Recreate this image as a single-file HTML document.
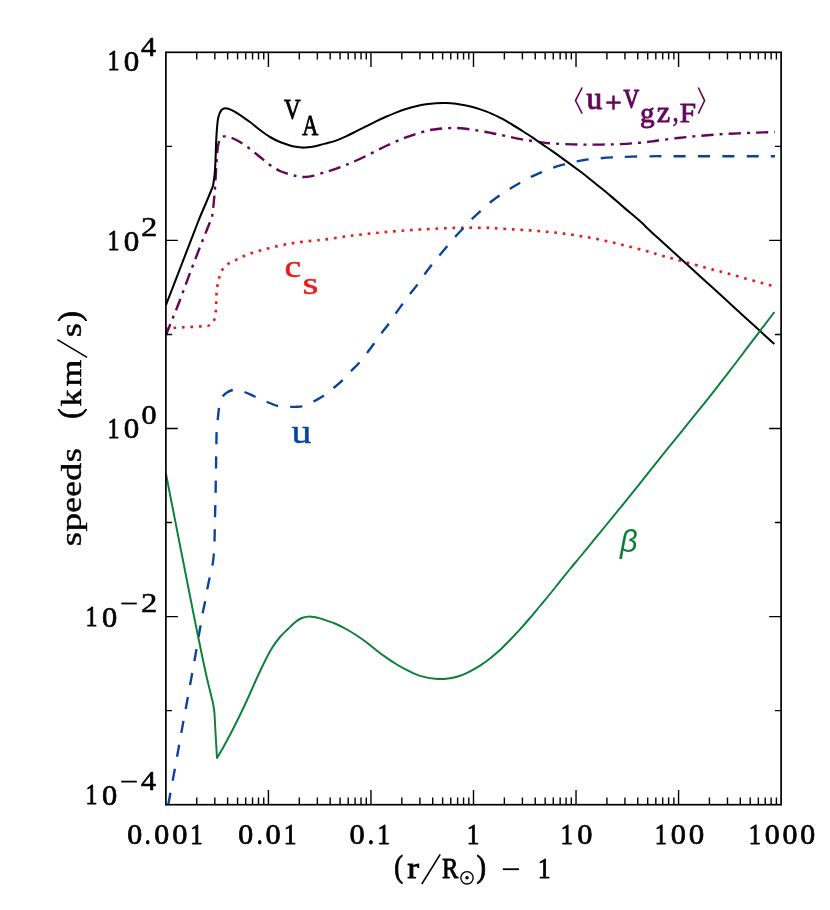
<!DOCTYPE html>
<html><head><meta charset="utf-8"><title>speeds vs (r/Rsun)-1</title>
<style>
html,body{margin:0;padding:0;background:#fff;}
body{width:830px;height:910px;overflow:hidden;font-family:"Liberation Serif",serif;}
svg{display:block;will-change:transform;}
text{white-space:pre;}
.fR{font-family:"Liberation Serif",serif;}
.fB{font-family:"Liberation Serif",serif;font-weight:bold;}
.fSI{font-family:"Liberation Sans",sans-serif;font-style:italic;}
</style></head><body>
<svg width="830" height="910" viewBox="0 0 830 910">
<rect width="830" height="910" fill="#fff"/>
<path d="M166.00,328.60C167.50,328.47 172.00,328.02 175.00,327.80C178.00,327.58 181.17,327.45 184.00,327.30C186.83,327.15 189.17,327.05 192.00,326.90C194.83,326.75 198.67,326.57 201.00,326.40C203.33,326.23 204.63,326.07 206.00,325.90C207.37,325.73 208.20,325.88 209.20,325.40C210.20,324.92 211.13,324.00 212.00,323.00C212.87,322.00 213.77,321.40 214.40,319.40C215.03,317.40 215.50,313.82 215.80,311.00C216.10,308.18 216.08,305.33 216.20,302.50C216.32,299.67 216.28,296.83 216.50,294.00C216.72,291.17 217.03,288.28 217.50,285.50C217.97,282.72 218.47,279.95 219.30,277.30C220.13,274.65 220.95,271.88 222.50,269.60C224.05,267.32 226.32,265.23 228.60,263.60C230.88,261.97 233.63,261.07 236.20,259.80C238.77,258.53 241.37,257.13 244.00,256.00C246.63,254.87 249.33,253.90 252.00,253.00C254.67,252.10 257.33,251.37 260.00,250.60C262.67,249.83 265.17,249.13 268.00,248.40C270.83,247.67 274.00,246.87 277.00,246.20C280.00,245.53 283.17,244.93 286.00,244.40C288.83,243.87 291.17,243.43 294.00,243.00C296.83,242.57 300.00,242.17 303.00,241.80C306.00,241.43 309.17,241.10 312.00,240.80C314.83,240.50 317.67,240.23 320.00,240.00C322.33,239.77 321.67,240.00 326.00,239.40C330.33,238.80 339.33,237.30 346.00,236.40C352.67,235.50 359.33,234.73 366.00,234.00C372.67,233.27 379.33,232.60 386.00,232.00C392.67,231.40 399.33,230.87 406.00,230.40C412.67,229.93 419.33,229.57 426.00,229.20C432.67,228.83 439.33,228.45 446.00,228.20C452.67,227.95 459.33,227.77 466.00,227.70C472.67,227.63 481.00,227.70 486.00,227.80C491.00,227.90 491.50,228.03 496.00,228.30C500.50,228.57 507.33,229.05 513.00,229.40C518.67,229.75 524.33,230.00 530.00,230.40C535.67,230.80 541.33,231.27 547.00,231.80C552.67,232.33 558.33,232.87 564.00,233.60C569.67,234.33 575.50,235.30 581.00,236.20C586.50,237.10 591.50,237.90 597.00,239.00C602.50,240.10 608.50,241.50 614.00,242.80C619.50,244.10 624.50,245.40 630.00,246.80C635.50,248.20 641.67,249.73 647.00,251.20C652.33,252.67 656.83,254.13 662.00,255.60C667.17,257.07 671.00,258.07 678.00,260.00C685.00,261.93 695.67,264.93 704.00,267.20C712.33,269.47 719.83,271.37 728.00,273.60C736.17,275.83 746.00,278.67 753.00,280.60C760.00,282.53 766.33,284.22 770.00,285.20C773.67,286.18 774.17,286.28 775.00,286.50" fill="none" stroke="#e81a1a" stroke-width="2.6" stroke-dasharray="2.7 5.8" stroke-dashoffset="1.05"/>
<path d="M168.40,804.00C169.83,796.17 174.87,768.77 177.00,757.00C179.13,745.23 179.77,741.33 181.20,733.40C182.63,725.47 184.13,717.40 185.60,709.40C187.07,701.40 188.53,693.47 190.00,685.40C191.47,677.33 192.80,670.07 194.40,661.00C196.00,651.93 198.58,636.83 199.60,631.00C200.62,625.17 200.00,628.92 200.50,626.00C201.00,623.08 201.85,617.50 202.60,613.50C203.35,609.50 204.23,606.00 205.00,602.00C205.77,598.00 206.43,593.50 207.20,589.50C207.97,585.50 208.73,581.92 209.60,578.00C210.47,574.08 211.70,569.92 212.40,566.00C213.10,562.08 213.45,558.50 213.80,554.50C214.15,550.50 214.30,548.08 214.50,542.00C214.70,535.92 214.82,526.17 215.00,518.00C215.18,509.83 215.43,501.33 215.60,493.00C215.77,484.67 215.87,476.17 216.00,468.00C216.13,459.83 216.30,449.83 216.40,444.00C216.50,438.17 216.40,436.83 216.60,433.00C216.80,429.17 217.20,425.17 217.60,421.00C218.00,416.83 218.52,411.33 219.00,408.00C219.48,404.67 219.83,403.00 220.50,401.00C221.17,399.00 221.92,397.43 223.00,396.00C224.08,394.57 225.40,393.40 227.00,392.40C228.60,391.40 230.93,390.47 232.60,390.00C234.27,389.53 235.03,389.27 237.00,389.60C238.97,389.93 242.23,391.20 244.40,392.00C246.57,392.80 248.13,393.57 250.00,394.40C251.87,395.23 253.77,396.13 255.60,397.00C257.43,397.87 259.10,398.77 261.00,399.60C262.90,400.43 265.08,401.23 267.00,402.00C268.92,402.77 270.67,403.53 272.50,404.20C274.33,404.87 276.08,405.57 278.00,406.00C279.92,406.43 281.93,406.65 284.00,406.80C286.07,406.95 288.40,406.90 290.40,406.90C292.40,406.90 294.07,406.90 296.00,406.80C297.93,406.70 300.00,406.70 302.00,406.30C304.00,405.90 306.10,405.18 308.00,404.40C309.90,403.62 310.73,403.10 313.40,401.60C316.07,400.10 320.63,397.67 324.00,395.40C327.37,393.13 330.53,390.50 333.60,388.00C336.67,385.50 339.50,383.23 342.40,380.40C345.30,377.57 348.23,373.90 351.00,371.00C353.77,368.10 356.33,366.00 359.00,363.00C361.67,360.00 364.50,356.23 367.00,353.00C369.50,349.77 371.57,346.93 374.00,343.60C376.43,340.27 379.17,336.27 381.60,333.00C384.03,329.73 386.27,327.23 388.60,324.00C390.93,320.77 393.27,316.93 395.60,313.60C397.93,310.27 400.20,307.27 402.60,304.00C405.00,300.73 407.53,297.23 410.00,294.00C412.47,290.77 415.00,287.83 417.40,284.60C419.80,281.37 422.03,277.87 424.40,274.60C426.77,271.33 429.10,268.20 431.60,265.00C434.10,261.80 436.83,258.50 439.40,255.40C441.97,252.30 444.40,249.47 447.00,246.40C449.60,243.33 452.33,240.00 455.00,237.00C457.67,234.00 460.33,231.23 463.00,228.40C465.67,225.57 467.92,223.07 471.00,220.00C474.08,216.93 478.00,213.17 481.50,210.00C485.00,206.83 488.58,203.67 492.00,201.00C495.42,198.33 498.67,196.23 502.00,194.00C505.33,191.77 508.67,189.67 512.00,187.60C515.33,185.53 518.67,183.47 522.00,181.60C525.33,179.73 528.67,178.00 532.00,176.40C535.33,174.80 538.67,173.40 542.00,172.00C545.33,170.60 548.67,169.20 552.00,168.00C555.33,166.80 558.67,165.73 562.00,164.80C565.33,163.87 568.67,163.13 572.00,162.40C575.33,161.67 578.67,160.97 582.00,160.40C585.33,159.83 587.00,159.50 592.00,159.00C597.00,158.50 605.33,157.80 612.00,157.40C618.67,157.00 624.33,156.80 632.00,156.60C639.67,156.40 653.67,156.27 658.00,156.20C677.50,156.20 755.50,156.20 775.00,156.20" fill="none" stroke="#07439c" stroke-width="2.35" stroke-dasharray="12.2 12.1" stroke-dashoffset="0.6"/>
<path d="M166.00,335.00C167.17,332.08 170.67,323.33 173.00,317.50C175.33,311.67 177.17,307.42 180.00,300.00C182.83,292.58 186.67,281.83 190.00,273.00C193.33,264.17 197.33,253.83 200.00,247.00C202.67,240.17 204.33,236.17 206.00,232.00C207.67,227.83 209.00,224.50 210.00,222.00C211.00,219.50 211.42,219.83 212.00,217.00C212.58,214.17 213.00,209.83 213.50,205.00C214.00,200.17 214.52,194.83 215.00,188.00C215.48,181.17 216.03,169.83 216.40,164.00C216.77,158.17 216.93,156.00 217.20,153.00C217.47,150.00 217.70,147.92 218.00,146.00C218.30,144.08 218.67,142.67 219.00,141.50C219.33,140.33 219.50,139.75 220.00,139.00C220.50,138.25 221.33,137.43 222.00,137.00C222.67,136.57 223.00,136.43 224.00,136.40C225.00,136.37 226.67,136.53 228.00,136.80C229.33,137.07 230.00,137.13 232.00,138.00C234.00,138.87 237.00,140.17 240.00,142.00C243.00,143.83 246.67,146.50 250.00,149.00C253.33,151.50 256.67,154.33 260.00,157.00C263.33,159.67 266.67,162.67 270.00,165.00C273.33,167.33 276.67,169.43 280.00,171.00C283.33,172.57 287.17,173.53 290.00,174.40C292.83,175.27 294.83,175.77 297.00,176.20C299.17,176.63 301.00,176.93 303.00,177.00C305.00,177.07 307.17,176.83 309.00,176.60C310.83,176.37 311.50,176.30 314.00,175.60C316.50,174.90 321.50,173.17 324.00,172.40C326.50,171.63 325.33,172.23 329.00,171.00C332.67,169.77 339.83,167.50 346.00,165.00C352.17,162.50 359.33,159.17 366.00,156.00C372.67,152.83 379.33,149.10 386.00,146.00C392.67,142.90 399.33,139.90 406.00,137.40C412.67,134.90 421.00,132.37 426.00,131.00C431.00,129.63 432.67,129.67 436.00,129.20C439.33,128.73 442.67,128.40 446.00,128.20C449.33,128.00 452.67,127.90 456.00,128.00C459.33,128.10 462.67,128.43 466.00,128.80C469.33,129.17 472.67,129.67 476.00,130.20C479.33,130.73 483.33,131.50 486.00,132.00C488.67,132.50 489.33,132.67 492.00,133.20C494.67,133.73 498.67,134.50 502.00,135.20C505.33,135.90 508.67,136.70 512.00,137.40C515.33,138.10 518.67,138.80 522.00,139.40C525.33,140.00 528.67,140.50 532.00,141.00C535.33,141.50 538.67,142.00 542.00,142.40C545.33,142.80 547.00,143.07 552.00,143.40C557.00,143.73 565.33,144.20 572.00,144.40C578.67,144.60 585.33,144.60 592.00,144.60C598.67,144.60 605.33,144.60 612.00,144.40C618.67,144.20 625.33,143.90 632.00,143.40C638.67,142.90 647.67,141.88 652.00,141.40C656.33,140.92 653.67,141.07 658.00,140.50C662.33,139.93 671.33,138.75 678.00,138.00C684.67,137.25 691.33,136.60 698.00,136.00C704.67,135.40 711.33,134.83 718.00,134.40C724.67,133.97 731.33,133.70 738.00,133.40C744.67,133.10 751.83,132.83 758.00,132.60C764.17,132.37 772.17,132.10 775.00,132.00" fill="none" stroke="#64045a" stroke-width="2.4" stroke-dasharray="12.25 6.04 3 6.04" stroke-dashoffset="0.6"/>
<path d="M166.00,305.00C168.67,298.08 176.67,277.33 182.00,263.50C187.33,249.67 194.00,232.08 198.00,222.00C202.00,211.92 203.83,208.17 206.00,203.00C208.17,197.83 209.83,193.83 211.00,191.00C212.17,188.17 212.67,186.83 213.00,186.00C213.20,184.67 213.87,180.67 214.20,178.00C214.53,175.33 214.77,173.33 215.00,170.00C215.23,166.67 215.43,162.00 215.60,158.00C215.77,154.00 215.85,149.83 216.00,146.00C216.15,142.17 216.30,138.33 216.50,135.00C216.70,131.67 216.95,128.67 217.20,126.00C217.45,123.33 217.62,121.08 218.00,119.00C218.38,116.92 218.92,115.00 219.50,113.50C220.08,112.00 220.75,110.85 221.50,110.00C222.25,109.15 223.08,108.67 224.00,108.40C224.92,108.13 226.00,108.23 227.00,108.40C228.00,108.57 228.67,108.83 230.00,109.40C231.33,109.97 233.33,110.87 235.00,111.80C236.67,112.73 237.50,113.30 240.00,115.00C242.50,116.70 246.67,119.50 250.00,122.00C253.33,124.50 256.67,127.50 260.00,130.00C263.33,132.50 266.67,135.00 270.00,137.00C273.33,139.00 276.67,140.60 280.00,142.00C283.33,143.40 287.33,144.60 290.00,145.40C292.67,146.20 294.00,146.43 296.00,146.80C298.00,147.17 300.00,147.52 302.00,147.60C304.00,147.68 306.00,147.50 308.00,147.30C310.00,147.10 312.00,146.78 314.00,146.40C316.00,146.02 318.00,145.50 320.00,145.00C322.00,144.50 323.33,144.13 326.00,143.40C328.67,142.67 332.67,141.77 336.00,140.60C339.33,139.43 342.67,137.93 346.00,136.40C349.33,134.87 352.67,133.07 356.00,131.40C359.33,129.73 362.67,128.07 366.00,126.40C369.33,124.73 372.67,123.00 376.00,121.40C379.33,119.80 382.67,118.27 386.00,116.80C389.33,115.33 392.67,113.90 396.00,112.60C399.33,111.30 402.67,110.07 406.00,109.00C409.33,107.93 412.67,107.00 416.00,106.20C419.33,105.40 422.67,104.70 426.00,104.20C429.33,103.70 432.67,103.40 436.00,103.20C439.33,103.00 442.67,102.90 446.00,103.00C449.33,103.10 452.67,103.37 456.00,103.80C459.33,104.23 462.67,104.90 466.00,105.60C469.33,106.30 472.67,107.03 476.00,108.00C479.33,108.97 483.33,110.42 486.00,111.40C488.67,112.38 489.33,112.68 492.00,113.90C494.67,115.12 498.67,116.93 502.00,118.70C505.33,120.47 508.67,122.50 512.00,124.50C515.33,126.50 518.67,128.59 522.00,130.70C525.33,132.81 528.67,134.92 532.00,137.15C535.33,139.38 538.67,141.81 542.00,144.10C545.33,146.39 548.67,148.57 552.00,150.90C555.33,153.23 558.67,155.63 562.00,158.05C565.33,160.47 568.67,162.94 572.00,165.40C575.33,167.86 578.67,170.23 582.00,172.80C585.33,175.37 588.67,178.13 592.00,180.80C595.33,183.47 598.67,186.08 602.00,188.80C605.33,191.52 608.67,194.27 612.00,197.10C615.33,199.93 618.67,202.93 622.00,205.80C625.33,208.67 628.83,211.60 632.00,214.30C635.17,217.00 638.13,219.38 641.00,222.00C643.87,224.62 646.37,227.33 649.20,230.00C652.03,232.67 651.53,232.12 658.00,238.00C664.47,243.88 678.00,256.20 688.00,265.30C698.00,274.40 708.33,283.78 718.00,292.60C727.67,301.42 736.62,309.63 746.00,318.20C755.38,326.77 769.58,339.70 774.30,344.00" fill="none" stroke="#000" stroke-width="2.05" stroke-linejoin="round"/>
<path d="M166.00,474.00C169.67,492.67 182.67,559.00 188.00,586.00C193.33,613.00 195.00,621.33 198.00,636.00C201.00,650.67 203.50,662.83 206.00,674.00C208.50,685.17 211.83,698.17 213.00,703.00C213.23,704.50 214.17,710.50 214.40,712.00C214.60,715.67 215.17,726.33 215.60,734.00C216.03,741.67 216.77,754.00 217.00,758.00C218.17,756.00 221.50,750.50 224.00,746.00C226.50,741.50 229.33,736.17 232.00,731.00C234.67,725.83 237.33,720.50 240.00,715.00C242.67,709.50 245.33,703.83 248.00,698.00C250.67,692.17 253.33,685.83 256.00,680.00C258.67,674.17 261.33,668.33 264.00,663.00C266.67,657.67 269.33,652.33 272.00,648.00C274.67,643.67 277.33,640.17 280.00,637.00C282.67,633.83 285.33,631.57 288.00,629.00C290.67,626.43 293.67,623.43 296.00,621.60C298.33,619.77 300.00,618.83 302.00,618.00C304.00,617.17 306.00,616.77 308.00,616.60C310.00,616.43 312.00,616.70 314.00,617.00C316.00,617.30 318.00,617.83 320.00,618.40C322.00,618.97 323.33,619.47 326.00,620.40C328.67,621.33 332.67,622.57 336.00,624.00C339.33,625.43 342.67,627.17 346.00,629.00C349.33,630.83 352.67,632.83 356.00,635.00C359.33,637.17 362.67,639.50 366.00,642.00C369.33,644.50 372.67,647.43 376.00,650.00C379.33,652.57 382.67,655.07 386.00,657.40C389.33,659.73 392.67,661.97 396.00,664.00C399.33,666.03 402.67,667.87 406.00,669.60C409.33,671.33 412.67,673.10 416.00,674.40C419.33,675.70 422.67,676.67 426.00,677.40C429.33,678.13 433.50,678.53 436.00,678.80C438.50,679.07 439.33,679.00 441.00,679.00C442.67,679.00 443.50,679.13 446.00,678.80C448.50,678.47 452.67,677.90 456.00,677.00C459.33,676.10 463.67,674.33 466.00,673.40C468.33,672.47 467.67,672.70 470.00,671.40C472.33,670.10 476.67,667.77 480.00,665.60C483.33,663.43 486.67,661.00 490.00,658.40C493.33,655.80 496.67,653.07 500.00,650.00C503.33,646.93 506.67,643.43 510.00,640.00C513.33,636.57 516.67,633.07 520.00,629.40C523.33,625.73 526.67,621.90 530.00,618.00C533.33,614.10 536.67,610.00 540.00,606.00C543.33,602.00 546.67,598.10 550.00,594.00C553.33,589.90 556.67,585.57 560.00,581.40C563.33,577.23 566.67,573.07 570.00,569.00C573.33,564.93 576.67,561.03 580.00,557.00C583.33,552.97 586.67,548.87 590.00,544.80C593.33,540.73 596.67,536.67 600.00,532.60C603.33,528.53 606.67,524.47 610.00,520.40C613.33,516.33 617.28,511.53 620.00,508.20C622.72,504.87 621.92,505.87 626.30,500.40C630.68,494.93 639.62,483.77 646.30,475.40C652.98,467.03 659.70,458.53 666.40,450.20C673.10,441.87 679.82,433.67 686.50,425.40C693.18,417.13 700.70,407.88 706.50,400.60C712.30,393.32 716.37,388.05 721.30,381.70C726.23,375.35 729.82,370.73 736.10,362.50C742.38,354.27 752.62,340.72 759.00,332.30C765.38,323.88 771.83,315.38 774.40,312.00" fill="none" stroke="#0a8038" stroke-width="1.95" stroke-linejoin="round"/>
<rect x="165.90" y="52.30" width="615.20" height="752.40" fill="none" stroke="#000" stroke-width="1.70"/>
<path d="M196.77,804.70v-7.30M196.77,52.30v7.30M214.82,804.70v-7.30M214.82,52.30v7.30M227.63,804.70v-7.30M227.63,52.30v7.30M237.57,804.70v-7.30M237.57,52.30v7.30M245.69,804.70v-7.30M245.69,52.30v7.30M252.55,804.70v-7.30M252.55,52.30v7.30M258.50,804.70v-7.30M258.50,52.30v7.30M263.74,804.70v-7.30M263.74,52.30v7.30M268.43,804.70v-14.60M268.43,52.30v14.60M299.30,804.70v-7.30M299.30,52.30v7.30M317.35,804.70v-7.30M317.35,52.30v7.30M330.16,804.70v-7.30M330.16,52.30v7.30M340.10,804.70v-7.30M340.10,52.30v7.30M348.22,804.70v-7.30M348.22,52.30v7.30M355.08,804.70v-7.30M355.08,52.30v7.30M361.03,804.70v-7.30M361.03,52.30v7.30M366.27,804.70v-7.30M366.27,52.30v7.30M370.97,804.70v-14.60M370.97,52.30v14.60M401.83,804.70v-7.30M401.83,52.30v7.30M419.89,804.70v-7.30M419.89,52.30v7.30M432.70,804.70v-7.30M432.70,52.30v7.30M442.63,804.70v-7.30M442.63,52.30v7.30M450.75,804.70v-7.30M450.75,52.30v7.30M457.62,804.70v-7.30M457.62,52.30v7.30M463.56,804.70v-7.30M463.56,52.30v7.30M468.81,804.70v-7.30M468.81,52.30v7.30M473.50,804.70v-14.60M473.50,52.30v14.60M504.37,804.70v-7.30M504.37,52.30v7.30M522.42,804.70v-7.30M522.42,52.30v7.30M535.23,804.70v-7.30M535.23,52.30v7.30M545.17,804.70v-7.30M545.17,52.30v7.30M553.29,804.70v-7.30M553.29,52.30v7.30M560.15,804.70v-7.30M560.15,52.30v7.30M566.10,804.70v-7.30M566.10,52.30v7.30M571.34,804.70v-7.30M571.34,52.30v7.30M576.03,804.70v-14.60M576.03,52.30v14.60M606.90,804.70v-7.30M606.90,52.30v7.30M624.95,804.70v-7.30M624.95,52.30v7.30M637.76,804.70v-7.30M637.76,52.30v7.30M647.70,804.70v-7.30M647.70,52.30v7.30M655.82,804.70v-7.30M655.82,52.30v7.30M662.68,804.70v-7.30M662.68,52.30v7.30M668.63,804.70v-7.30M668.63,52.30v7.30M673.87,804.70v-7.30M673.87,52.30v7.30M678.57,804.70v-14.60M678.57,52.30v14.60M709.43,804.70v-7.30M709.43,52.30v7.30M727.49,804.70v-7.30M727.49,52.30v7.30M740.30,804.70v-7.30M740.30,52.30v7.30M750.23,804.70v-7.30M750.23,52.30v7.30M758.35,804.70v-7.30M758.35,52.30v7.30M765.22,804.70v-7.30M765.22,52.30v7.30M771.16,804.70v-7.30M771.16,52.30v7.30M776.41,804.70v-7.30M776.41,52.30v7.30M165.90,146.35h6.20M781.10,146.35h-6.20M165.90,240.40h12.00M781.10,240.40h-12.00M165.90,334.45h6.20M781.10,334.45h-6.20M165.90,428.50h12.00M781.10,428.50h-12.00M165.90,522.55h6.20M781.10,522.55h-6.20M165.90,616.60h12.00M781.10,616.60h-12.00M165.90,710.65h6.20M781.10,710.65h-6.20" fill="none" stroke="#000" stroke-width="1.4"/>
<text transform="translate(127.22,844.00) scale(1.0348,1)" font-size="28.90" fill="#000" stroke="#000" stroke-width="0.72" stroke-linejoin="round" vector-effect="non-scaling-stroke" class="fR">0</text>
<text transform="translate(144.84,844.00) scale(0.8199,1)" font-size="28.90" fill="#000" stroke="#000" stroke-width="0.80" stroke-linejoin="round" vector-effect="non-scaling-stroke" class="fR">.</text>
<text transform="translate(154.22,844.00) scale(1.0348,1)" font-size="28.90" fill="#000" stroke="#000" stroke-width="0.72" stroke-linejoin="round" vector-effect="non-scaling-stroke" class="fR">0</text>
<text transform="translate(172.19,844.00) scale(1.0533,1)" font-size="28.90" fill="#000" stroke="#000" stroke-width="0.70" stroke-linejoin="round" vector-effect="non-scaling-stroke" class="fR">0</text>
<text transform="translate(190.20,843.60) scale(0.8649,1)" font-size="28.90" fill="#000" stroke="#000" stroke-width="0.80" stroke-linejoin="round" vector-effect="non-scaling-stroke" class="fR">1</text>
<text transform="translate(238.22,844.00) scale(1.0348,1)" font-size="28.90" fill="#000" stroke="#000" stroke-width="0.72" stroke-linejoin="round" vector-effect="non-scaling-stroke" class="fR">0</text>
<text transform="translate(256.84,844.00) scale(0.8199,1)" font-size="28.90" fill="#000" stroke="#000" stroke-width="0.80" stroke-linejoin="round" vector-effect="non-scaling-stroke" class="fR">.</text>
<text transform="translate(265.59,844.00) scale(1.0533,1)" font-size="28.90" fill="#000" stroke="#000" stroke-width="0.70" stroke-linejoin="round" vector-effect="non-scaling-stroke" class="fR">0</text>
<text transform="translate(283.75,843.60) scale(0.8846,1)" font-size="28.90" fill="#000" stroke="#000" stroke-width="0.80" stroke-linejoin="round" vector-effect="non-scaling-stroke" class="fR">1</text>
<text transform="translate(349.59,844.00) scale(1.0533,1)" font-size="28.90" fill="#000" stroke="#000" stroke-width="0.70" stroke-linejoin="round" vector-effect="non-scaling-stroke" class="fR">0</text>
<text transform="translate(367.73,844.00) scale(0.8785,1)" font-size="28.90" fill="#000" stroke="#000" stroke-width="0.80" stroke-linejoin="round" vector-effect="non-scaling-stroke" class="fR">.</text>
<text transform="translate(377.15,843.60) scale(0.8846,1)" font-size="28.90" fill="#000" stroke="#000" stroke-width="0.80" stroke-linejoin="round" vector-effect="non-scaling-stroke" class="fR">1</text>
<text transform="translate(466.80,843.60) scale(0.8649,1)" font-size="28.90" fill="#000" stroke="#000" stroke-width="0.80" stroke-linejoin="round" vector-effect="non-scaling-stroke" class="fR">1</text>
<text transform="translate(560.60,843.60) scale(0.8649,1)" font-size="28.90" fill="#000" stroke="#000" stroke-width="0.80" stroke-linejoin="round" vector-effect="non-scaling-stroke" class="fR">1</text>
<text transform="translate(577.19,844.00) scale(1.0533,1)" font-size="28.90" fill="#000" stroke="#000" stroke-width="0.70" stroke-linejoin="round" vector-effect="non-scaling-stroke" class="fR">0</text>
<text transform="translate(654.85,843.60) scale(0.8453,1)" font-size="28.90" fill="#000" stroke="#000" stroke-width="0.80" stroke-linejoin="round" vector-effect="non-scaling-stroke" class="fR">1</text>
<text transform="translate(670.79,844.00) scale(1.0533,1)" font-size="28.90" fill="#000" stroke="#000" stroke-width="0.70" stroke-linejoin="round" vector-effect="non-scaling-stroke" class="fR">0</text>
<text transform="translate(688.76,844.00) scale(1.0717,1)" font-size="28.90" fill="#000" stroke="#000" stroke-width="0.67" stroke-linejoin="round" vector-effect="non-scaling-stroke" class="fR">0</text>
<text transform="translate(748.65,843.60) scale(0.8453,1)" font-size="28.90" fill="#000" stroke="#000" stroke-width="0.80" stroke-linejoin="round" vector-effect="non-scaling-stroke" class="fR">1</text>
<text transform="translate(764.82,844.00) scale(1.0348,1)" font-size="28.90" fill="#000" stroke="#000" stroke-width="0.72" stroke-linejoin="round" vector-effect="non-scaling-stroke" class="fR">0</text>
<text transform="translate(782.62,844.00) scale(1.0348,1)" font-size="28.90" fill="#000" stroke="#000" stroke-width="0.72" stroke-linejoin="round" vector-effect="non-scaling-stroke" class="fR">0</text>
<text transform="translate(800.22,844.00) scale(1.0348,1)" font-size="28.90" fill="#000" stroke="#000" stroke-width="0.72" stroke-linejoin="round" vector-effect="non-scaling-stroke" class="fR">0</text>
<text transform="translate(107.50,70.10) scale(0.8256,1)" font-size="28.90" fill="#000" stroke="#000" stroke-width="0.80" stroke-linejoin="round" vector-effect="non-scaling-stroke" class="fR">1</text>
<text transform="translate(123.76,70.50) scale(1.0717,1)" font-size="28.90" fill="#000" stroke="#000" stroke-width="0.67" stroke-linejoin="round" vector-effect="non-scaling-stroke" class="fR">0</text>
<text transform="translate(141.04,55.87) scale(1.0872,1)" font-size="27.60" fill="#000" stroke="#000" stroke-width="0.65" stroke-linejoin="round" vector-effect="non-scaling-stroke" class="fR">4</text>
<text transform="translate(107.50,250.20) scale(0.8256,1)" font-size="28.90" fill="#000" stroke="#000" stroke-width="0.80" stroke-linejoin="round" vector-effect="non-scaling-stroke" class="fR">1</text>
<text transform="translate(123.76,250.60) scale(1.0717,1)" font-size="28.90" fill="#000" stroke="#000" stroke-width="0.67" stroke-linejoin="round" vector-effect="non-scaling-stroke" class="fR">0</text>
<text transform="translate(141.02,236.14) scale(1.1826,1)" font-size="27.60" fill="#000" stroke="#000" stroke-width="0.52" stroke-linejoin="round" vector-effect="non-scaling-stroke" class="fR">2</text>
<text transform="translate(107.50,438.00) scale(0.8256,1)" font-size="28.90" fill="#000" stroke="#000" stroke-width="0.80" stroke-linejoin="round" vector-effect="non-scaling-stroke" class="fR">1</text>
<text transform="translate(123.76,438.40) scale(1.0717,1)" font-size="28.90" fill="#000" stroke="#000" stroke-width="0.67" stroke-linejoin="round" vector-effect="non-scaling-stroke" class="fR">0</text>
<text transform="translate(141.38,424.10) scale(1.0904,1)" font-size="27.60" fill="#000" stroke="#000" stroke-width="0.65" stroke-linejoin="round" vector-effect="non-scaling-stroke" class="fR">0</text>
<text transform="translate(85.40,626.40) scale(0.8256,1)" font-size="28.90" fill="#000" stroke="#000" stroke-width="0.80" stroke-linejoin="round" vector-effect="non-scaling-stroke" class="fR">1</text>
<text transform="translate(101.89,626.80) scale(1.0533,1)" font-size="28.90" fill="#000" stroke="#000" stroke-width="0.70" stroke-linejoin="round" vector-effect="non-scaling-stroke" class="fR">0</text>
<path d="M121.3,603.50H136.8" stroke="#000" stroke-width="1.8"/>
<text transform="translate(141.02,612.44) scale(1.1826,1)" font-size="27.60" fill="#000" stroke="#000" stroke-width="0.52" stroke-linejoin="round" vector-effect="non-scaling-stroke" class="fR">2</text>
<text transform="translate(85.40,804.20) scale(0.8256,1)" font-size="28.90" fill="#000" stroke="#000" stroke-width="0.80" stroke-linejoin="round" vector-effect="non-scaling-stroke" class="fR">1</text>
<text transform="translate(101.89,804.60) scale(1.0533,1)" font-size="28.90" fill="#000" stroke="#000" stroke-width="0.70" stroke-linejoin="round" vector-effect="non-scaling-stroke" class="fR">0</text>
<path d="M121.3,781.60H136.8" stroke="#000" stroke-width="1.8"/>
<text transform="translate(141.04,790.27) scale(1.0872,1)" font-size="27.60" fill="#000" stroke="#000" stroke-width="0.65" stroke-linejoin="round" vector-effect="non-scaling-stroke" class="fR">4</text>
<text transform="translate(394.34,876.95) scale(0.8605,1)" font-size="30.77" fill="#000" stroke="#000" stroke-width="0.80" stroke-linejoin="round" vector-effect="non-scaling-stroke" class="fR">(</text>
<text transform="translate(407.17,877.73) scale(1.2228,1)" font-size="28.90" fill="#000" stroke="#000" stroke-width="0.95" stroke-linejoin="round" vector-effect="non-scaling-stroke" class="fR">r</text>
<path d="M421.8,884L440.2,854.4" stroke="#000" stroke-width="1.6"/>
<text transform="translate(441.89,877.80) scale(0.8478,1)" font-size="28.90" fill="#000" stroke="#000" stroke-width="0.80" stroke-linejoin="round" vector-effect="non-scaling-stroke" class="fR">R</text>
<circle cx="467" cy="877.8" r="6.2" fill="none" stroke="#000" stroke-width="1.4"/><circle cx="467" cy="877.8" r="1.75" fill="#000"/>
<text transform="translate(476.47,876.95) scale(0.9364,1)" font-size="30.77" fill="#000" stroke="#000" stroke-width="0.80" stroke-linejoin="round" vector-effect="non-scaling-stroke" class="fR">)</text>
<path d="M502.8,869.2H519" stroke="#000" stroke-width="1.8"/>
<text transform="translate(537.63,877.80) scale(0.8944,1)" font-size="28.90" fill="#000" stroke="#000" stroke-width="0.80" stroke-linejoin="round" vector-effect="non-scaling-stroke" class="fR">1</text>
<g transform="translate(81.3,545) rotate(-90)"><text transform="translate(-1.32,0.00) scale(1.2591,1)" font-size="29.50" fill="#000" stroke="#000" stroke-width="0.41" stroke-linejoin="round" vector-effect="non-scaling-stroke" class="fR">s</text><text transform="translate(13.60,0.00) scale(1.2652,1)" font-size="29.50" fill="#000" stroke="#000" stroke-width="0.40" stroke-linejoin="round" vector-effect="non-scaling-stroke" class="fR">p</text><text transform="translate(32.26,0.00) scale(1.2007,1)" font-size="29.50" fill="#000" stroke="#000" stroke-width="0.49" stroke-linejoin="round" vector-effect="non-scaling-stroke" class="fR">e</text><text transform="translate(48.26,0.00) scale(1.2007,1)" font-size="29.50" fill="#000" stroke="#000" stroke-width="0.49" stroke-linejoin="round" vector-effect="non-scaling-stroke" class="fR">e</text><text transform="translate(64.35,0.00) scale(1.2101,1)" font-size="29.50" fill="#000" stroke="#000" stroke-width="0.48" stroke-linejoin="round" vector-effect="non-scaling-stroke" class="fR">d</text><text transform="translate(82.68,0.00) scale(1.2591,1)" font-size="29.50" fill="#000" stroke="#000" stroke-width="0.41" stroke-linejoin="round" vector-effect="non-scaling-stroke" class="fR">s</text><text transform="translate(125.94,-1.35) scale(1.0416,1)" font-size="30.98" fill="#000" stroke="#000" stroke-width="0.71" stroke-linejoin="round" vector-effect="non-scaling-stroke" class="fR">(</text><text transform="translate(138.62,-0.27) scale(1.1595,1)" font-size="29.50" fill="#000" stroke="#000" stroke-width="0.55" stroke-linejoin="round" vector-effect="non-scaling-stroke" class="fR">k</text><text transform="translate(158.55,-0.27) scale(1.1642,1)" font-size="29.50" fill="#000" stroke="#000" stroke-width="0.54" stroke-linejoin="round" vector-effect="non-scaling-stroke" class="fR">m</text><path d="M187.60,5.8L205.40,-24" stroke="#000" stroke-width="1.6"/><text transform="translate(207.68,0.00) scale(1.2591,1)" font-size="29.50" fill="#000" stroke="#000" stroke-width="0.41" stroke-linejoin="round" vector-effect="non-scaling-stroke" class="fR">s</text><text transform="translate(223.32,-1.35) scale(1.0416,1)" font-size="30.98" fill="#000" stroke="#000" stroke-width="0.71" stroke-linejoin="round" vector-effect="non-scaling-stroke" class="fR">)</text></g>
<text transform="translate(284.04,118.76) scale(0.7905,1)" font-size="29.11" fill="#000" stroke="#000" stroke-width="0.80" stroke-linejoin="round" vector-effect="non-scaling-stroke" class="fR">V</text>
<text transform="translate(302.18,134.50) scale(0.7656,1)" font-size="29.08" fill="#000" stroke="#000" stroke-width="0.80" stroke-linejoin="round" vector-effect="non-scaling-stroke" class="fR">A</text>
<text transform="translate(284.45,277.41) scale(1.1663,1)" font-size="32.12" fill="#e81a1a" stroke="#e81a1a" stroke-width="0.55" stroke-linejoin="round" vector-effect="non-scaling-stroke" class="fR">c</text>
<text transform="translate(302.50,294.31) scale(1.2639,1)" font-size="32.33" fill="#e81a1a" stroke="#e81a1a" stroke-width="0.55" stroke-linejoin="round" vector-effect="non-scaling-stroke" class="fR">s</text>
<text transform="translate(291.50,443.15) scale(1.2046,1)" font-size="32.96" fill="#07439c" stroke="#07439c" stroke-width="0.45" stroke-linejoin="round" vector-effect="non-scaling-stroke" class="fR">u</text>
<text transform="translate(586.39,108.50) scale(1.0258,1)" font-size="30.51" fill="#64045a" stroke="#64045a" stroke-width="1.00" stroke-linejoin="round" vector-effect="non-scaling-stroke" class="fR">u</text>
<text transform="translate(605.19,111.72) scale(1.0085,1)" font-size="28.98" fill="#64045a" stroke="#64045a" stroke-width="0.90" stroke-linejoin="round" vector-effect="non-scaling-stroke" class="fR">+</text>
<text transform="translate(623.51,108.35) scale(0.8176,1)" font-size="26.57" fill="#64045a" stroke="#64045a" stroke-width="1.10" stroke-linejoin="round" vector-effect="non-scaling-stroke" class="fR">V</text>
<text transform="translate(640.07,121.62) scale(1.0911,1)" font-size="26.68" fill="#64045a" stroke="#64045a" stroke-width="0.85" stroke-linejoin="round" vector-effect="non-scaling-stroke" class="fR">g</text>
<text transform="translate(656.81,121.98) scale(1.0539,1)" font-size="28.65" fill="#64045a" stroke="#64045a" stroke-width="0.85" stroke-linejoin="round" vector-effect="non-scaling-stroke" class="fR">z</text>
<text transform="translate(672.45,121.47) scale(0.8077,1)" font-size="30.76" fill="#64045a" stroke="#64045a" stroke-width="0.60" stroke-linejoin="round" vector-effect="non-scaling-stroke" class="fR">,</text>
<text transform="translate(679.86,122.00) scale(1.0845,1)" font-size="27.03" fill="#64045a" stroke="#64045a" stroke-width="0.80" stroke-linejoin="round" vector-effect="non-scaling-stroke" class="fR">F</text>
<path d="M582.2,87.5L575.5,100.6L582.2,113.7" fill="none" stroke="#64045a" stroke-width="1.6"/>
<path d="M698.3,87.5L704.6,100.6L698.3,113.7" fill="none" stroke="#64045a" stroke-width="1.6"/>
<text transform="translate(619.98,552.40) scale(0.9690,1)" font-size="31.70" fill="#0a8038" stroke="#0a8038" stroke-width="0.05" stroke-linejoin="round" vector-effect="non-scaling-stroke" class="fSI">β</text>
</svg>
</body></html>
